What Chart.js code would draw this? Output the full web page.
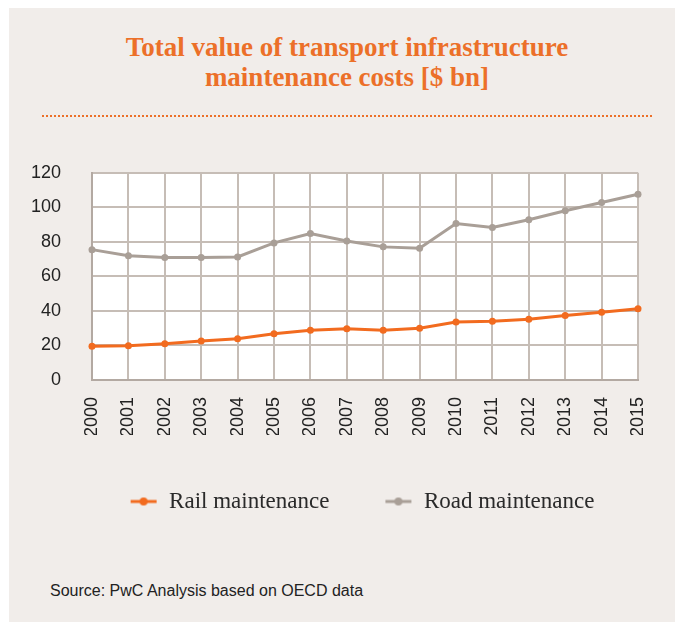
<!DOCTYPE html>
<html>
<head>
<meta charset="utf-8">
<script src="https://cdn.jsdelivr.net/npm/chart.js@4.4.1/dist/chart.umd.min.js"></script>
<style>
  html, body { margin: 0; padding: 0; background: #ffffff; }
  body { width: 684px; height: 630px; position: relative; overflow: hidden; }
  #panel { position: absolute; left: 9px; top: 8px; width: 666px; height: 614px; background: #f1edea; }
  #title {
    position: absolute; left: 5px; top: 32px; width: 684px; text-align: center;
    font-family: "Liberation Serif", "DejaVu Serif", serif; font-weight: bold;
    font-size: 27px; line-height: 30px; color: #ec7029;
  }
  #rule { position: absolute; left: 42px; top: 115px; width: 610px; border-top: 2px dotted #ec7029; }
  #box { position: absolute; left: 10px; top: 131px; width: 704px; height: 392px; }
  #source {
    position: absolute; left: 50px; top: 582px; font-family: "Liberation Sans", Arial, sans-serif;
    font-size: 16px; color: #222;
  }
</style>
</head>
<body>
<div id="panel"></div>
<div id="title">Total value of transport infrastructure<br>maintenance costs [$ bn]</div>
<div id="rule"></div>
<div id="box"><canvas id="costChart"></canvas></div>
<div id="source">Source: PwC Analysis based on OECD data</div>
<script>
var years = ["2000", "2001", "2002", "2003", "2004", "2005", "2006", "2007",
  "2008", "2009", "2010", "2011", "2012", "2013", "2014", "2015"];
var railValues = [19.5, 19.9, 21.0, 22.6, 23.9, 26.8, 28.8, 29.7, 28.8, 30.0, 33.6, 34.0, 35.2, 37.3, 39.2, 41.2];
var roadValues = [75.5, 71.9, 70.9, 70.9, 71.3, 79.4, 84.8, 80.5, 77.1, 76.3, 90.6, 88.3, 92.8, 98.0, 102.8, 107.6];
var yTicks = [0, 20, 40, 60, 80, 100, 120];

var railColor = '#f26b1f';
var roadColor = '#a99f97';

// small line + dot image used as the legend marker
function legendMark(color) {
  var c = document.createElement('canvas');
  c.width = 28; c.height = 10;
  var g = c.getContext('2d');
  g.strokeStyle = color;
  g.lineWidth = 3;
  g.beginPath(); g.moveTo(1, 5); g.lineTo(27, 5); g.stroke();
  g.fillStyle = color;
  g.beginPath(); g.arc(14, 5, 4, 0, Math.PI * 2); g.fill();
  return c;
}

var ctx = document.getElementById('costChart').getContext('2d');
var costChart = new Chart(ctx, {
  type: 'line',
  data: {
    labels: years,
    datasets: [{
      label: 'Rail maintenance',
      data: railValues,
      borderColor: railColor,
      backgroundColor: railColor,
      borderWidth: 3,
      pointRadius: 3.5,
      pointBorderWidth: 0,
      tension: 0
    }, {
      label: 'Road maintenance',
      data: roadValues,
      borderColor: roadColor,
      backgroundColor: roadColor,
      borderWidth: 3,
      pointRadius: 3.5,
      pointBorderWidth: 0,
      tension: 0
    }]
  },
  options: {
    responsive: true,
    maintainAspectRatio: false,
    animation: false,
    layout: { padding: { top: 8, right: 0, left: 0, bottom: 0 } },
    scales: {
      x: {
        offset: false,
        afterFit: function (axis) { axis.height = 55; },
        grid: { color: '#c6bdb6', lineWidth: 2, drawTicks: false },
        border: { color: '#b3a9a2', width: 2 },
        ticks: {
          autoSkip: false, maxRotation: 90, minRotation: 90, padding: 17,
          color: '#222', font: { family: 'Liberation Sans', size: 18 }
        }
      },
      y: {
        min: 0, max: 120,
        afterBuildTicks: function (axis) {
          axis.ticks = yTicks.map(function (v) { return { value: v }; });
        },
        afterFit: function (axis) { axis.width = 82; },
        grid: { color: '#c6bdb6', lineWidth: 2, drawTicks: false },
        border: { color: '#b3a9a2', width: 2 },
        ticks: { padding: 31, color: '#222', font: { family: 'Liberation Sans', size: 18 } }
      },
      // empty right-hand spacer so the plot ends where the reference does
      spacer: {
        type: 'linear', position: 'right',
        afterFit: function (axis) { axis.width = 76; },
        grid: { display: false },
        border: { display: false },
        ticks: { display: false }
      }
    },
    plugins: {
      legend: {
        position: 'bottom',
        labels: {
          usePointStyle: true,
          pointStyleWidth: 28,
          padding: 55,
          color: '#2a2a2a',
          font: { family: 'Liberation Serif', size: 23 },
          generateLabels: function (chart) {
            var items = Chart.defaults.plugins.legend.labels.generateLabels(chart);
            items.forEach(function (it, i) {
              it.pointStyle = legendMark(i === 0 ? railColor : roadColor);
            });
            return items;
          }
        }
      },
      tooltip: { enabled: false }
    }
  },
  plugins: [{
    id: 'plotBg',
    beforeDraw: function (chart) {
      var a = chart.chartArea;
      chart.ctx.save();
      chart.ctx.fillStyle = '#ffffff';
      chart.ctx.fillRect(a.left, a.top, a.right - a.left, a.bottom - a.top);
      chart.ctx.restore();
    }
  }]
});
</script>
</body>
</html>
